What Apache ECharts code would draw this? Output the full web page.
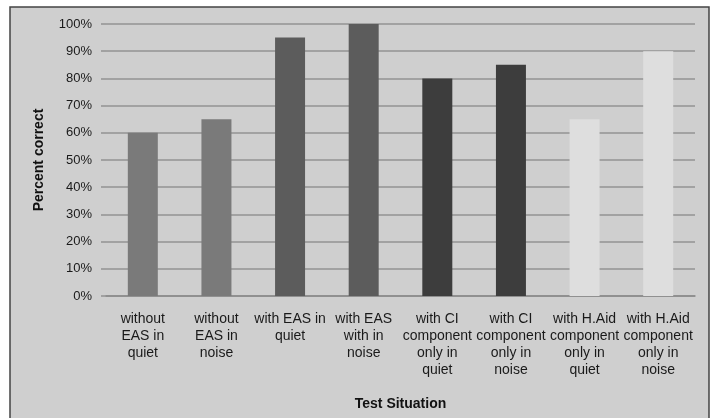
<!DOCTYPE html>
<html><head><meta charset="utf-8">
<script src="https://cdn.jsdelivr.net/npm/echarts@6/dist/echarts.min.js"></script>
<style>html,body{margin:0;padding:0;background:#fff}#c{width:715px;height:418px}</style>
</head><body><div id="c"></div>
<script>
const categories = [
  "without\nEAS in\nquiet",
  "without\nEAS in\nnoise",
  "with EAS in\nquiet",
  "with EAS\nwith in\nnoise",
  "with CI\ncomponent\nonly in\nquiet",
  "with CI\ncomponent\nonly in\nnoise",
  "with H.Aid\ncomponent\nonly in\nquiet",
  "with H.Aid\ncomponent\nonly in\nnoise"
];
const values = [60, 65, 95, 100, 80, 85, 65, 90];
const barColors = ["#7a7a7a", "#7a7a7a", "#5c5c5c", "#5c5c5c", "#3d3d3d", "#3d3d3d", "#dedede", "#dedede"];
const yTicks = [0, 10, 20, 30, 40, 50, 60, 70, 80, 90, 100];

const chart = echarts.init(document.getElementById('c'));
chart.setOption({
  backgroundColor: '#ffffff',
  animation: false,
  graphic: [{
    type: 'rect', z: -10,
    shape: {x: 10, y: 7, width: 699, height: 420},
    style: {fill: '#cfcfcf', stroke: '#444', lineWidth: 1.5}
  }],
  grid: {left: 106, right: 20, top: 24, bottom: 122},
  xAxis: {
    type: 'category',
    data: categories,
    name: 'Test Situation',
    nameLocation: 'middle',
    nameGap: 101,
    nameTextStyle: {fontFamily: 'Liberation Sans', fontWeight: 'bold', fontSize: 14, color: '#111'},
    axisLine: {lineStyle: {color: '#8a8a8a', width: 1.5}},
    axisTick: {show: false},
    axisLabel: {interval: 0, fontFamily: 'Liberation Sans', fontSize: 14, color: '#1a1a1a', lineHeight: 17, margin: 15}
  },
  yAxis: {
    type: 'value', min: 0, max: 100, interval: 10,
    name: 'Percent correct',
    nameLocation: 'middle',
    nameGap: 60,
    nameRotate: 90,
    nameTextStyle: {fontFamily: 'Liberation Sans', fontWeight: 'bold', fontSize: 14, color: '#111'},
    axisLine: {show: false},
    axisTick: {show: true, length: 5, lineStyle: {color: '#939393', width: 1.5}},
    axisLabel: {fontFamily: 'Liberation Sans', fontSize: 13, color: '#1a1a1a', margin: 14,
      formatter: v => yTicks.includes(v) ? v + '%' : ''},
    splitLine: {lineStyle: {color: '#939393', width: 1.5}}
  },
  series: [{
    type: 'bar',
    data: values.map((v, i) => ({value: v, itemStyle: {color: barColors[i]}})),
    barWidth: 30
  }]
});
</script></body></html>
